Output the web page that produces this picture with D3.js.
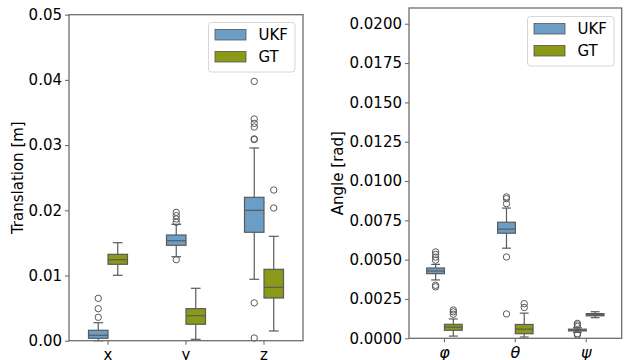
<!doctype html>
<html>
<head>
<meta charset="utf-8">
<script src="https://cdnjs.cloudflare.com/ajax/libs/d3/7.8.5/d3.min.js"></script>
<style>
    body { margin: 0; background: #fff; }
    svg text { font-family: 'DejaVu Sans', sans-serif; fill: #000; }
</style>
</head>
<body>
<div id="chart"></div>
<script>
// data: box stats as [whiskerLow, q1, median, q3, whiskerHigh]
const hues = ['UKF', 'GT'];
const transCats = ['x', 'y', 'z'];
const transUKF = [
    [0.00000, 0.00037, 0.00083, 0.00160, 0.00276],
    [0.01288, 0.01463, 0.01534, 0.01621, 0.01785],
    [0.00942, 0.01663, 0.02000, 0.02199, 0.02956]
];
const transUKFOut = [
    [0.00359, 0.00491, 0.00650],
    [0.01242, 0.01817, 0.01867, 0.01918, 0.01969],
    [0.00041, 0.00580, 0.03085, 0.03095, 0.03277, 0.03333, 0.03400, 0.03977]
];
const transGT = [
    [0.01003, 0.01172, 0.01242, 0.01325, 0.01503],
    [0.00021, 0.00252, 0.00383, 0.00491, 0.00804],
    [0.00149, 0.00655, 0.00819, 0.01095, 0.01601]
];
const transGTOut = [
    [],
    [],
    [0.02035, 0.02311]
];
const transTicks = [0, 0.01, 0.02, 0.03, 0.04, 0.05];

const angleCats = ['φ', 'θ', 'ψ'];
const angleUKF = [
    [0.00371, 0.00411, 0.00428, 0.00447, 0.00470],
    [0.00573, 0.00668, 0.00694, 0.00738, 0.00828],
    [0.00038, 0.00047, 0.00052, 0.00058, 0.00067]
];
const angleUKFOut = [
    [0.00327, 0.00337, 0.00497, 0.00516, 0.00533, 0.00549],
    [0.00155, 0.00517, 0.00856, 0.00888, 0.00899],
    [0.00021, 0.00029, 0.00075, 0.00085, 0.00095]
];
const angleGT = [
    [0.00014, 0.00051, 0.00071, 0.00089, 0.00123],
    [0.00008, 0.00029, 0.00058, 0.00088, 0.00160],
    [0.00131, 0.00143, 0.00150, 0.00157, 0.00169]
];
const angleGTOut = [
    [0.00153, 0.00168, 0.00180],
    [0.00196, 0.00220],
    []
];
const angleTicks = [0, 0.0025, 0.005, 0.0075, 0.01, 0.0125, 0.015, 0.0175, 0.02];

const colors = { UKF: '#6b9ec6', GT: '#8a9a18' };
const lineColor = '#5a5a5a';
const spineColor = '#6e6e6e';

const svg = d3.select('#chart').append('svg')
    .attr('width', 627)
    .attr('height', 360);

function drawPanel(p) {
    const g = svg.append('g');
    const xScale = d3.scaleBand().domain(p.cats).range([p.left, p.right]);
    const hueScale = d3.scaleBand().domain(hues)
        .range([xScale.bandwidth() * 0.25, xScale.bandwidth() * 0.75]);
    const yScale = d3.scaleLinear().domain(p.domain).range([p.bottom, p.top]);
    const bw = hueScale.bandwidth();

    // y axis
    const yAxis = g.append('g')
        .attr('transform', `translate(${p.left},0)`)
        .call(d3.axisLeft(yScale).tickValues(p.ticks).tickFormat(d3.format(p.fmt)).tickSize(4).tickPadding(3));
    yAxis.select('.domain').remove();
    yAxis.selectAll('.tick line').attr('stroke', spineColor).attr('stroke-width', 1.1);
    yAxis.selectAll('.tick text').style('font-size', '15px').style('font-family', 'DejaVu Sans');

    // x axis
    const xAxis = g.append('g')
        .attr('transform', `translate(0,${p.bottom})`)
        .call(d3.axisBottom(xScale).tickSize(4).tickPadding(p.catPad));
    xAxis.select('.domain').remove();
    xAxis.selectAll('.tick line').attr('stroke', spineColor).attr('stroke-width', 1.1);
    xAxis.selectAll('.tick text')
        .style('font-size', p.catSize)
        .style('font-family', 'DejaVu Sans')
        .style('font-style', p.catItalic ? 'italic' : 'normal');

    // boxes
    const series = [
        { hue: 'UKF', stats: p.ukf, out: p.ukfOut },
        { hue: 'GT', stats: p.gt, out: p.gtOut }
    ];
    series.forEach(s => {
        p.cats.forEach((c, i) => {
            const st = s.stats[i];
            const x0 = xScale(c) + hueScale(s.hue);
            const xc = x0 + bw / 2;
            const bg = g.append('g');
            bg.append('line')
                .attr('x1', xc).attr('x2', xc)
                .attr('y1', yScale(st[0])).attr('y2', yScale(st[1]))
                .attr('stroke', lineColor).attr('stroke-width', 1.2);
            bg.append('line')
                .attr('x1', xc).attr('x2', xc)
                .attr('y1', yScale(st[3])).attr('y2', yScale(st[4]))
                .attr('stroke', lineColor).attr('stroke-width', 1.2);
            [st[0], st[4]].forEach(v => {
                bg.append('line')
                    .attr('x1', xc - bw / 4).attr('x2', xc + bw / 4)
                    .attr('y1', yScale(v)).attr('y2', yScale(v))
                    .attr('stroke', lineColor).attr('stroke-width', 1.2);
            });
            bg.append('rect')
                .attr('x', x0).attr('width', bw)
                .attr('y', yScale(st[3]))
                .attr('height', Math.max(yScale(st[1]) - yScale(st[3]), 0.5))
                .attr('fill', colors[s.hue])
                .attr('stroke', lineColor).attr('stroke-width', 1.2);
            bg.append('line')
                .attr('x1', x0).attr('x2', x0 + bw)
                .attr('y1', yScale(st[2])).attr('y2', yScale(st[2]))
                .attr('stroke', lineColor).attr('stroke-width', 1.2);
            bg.selectAll('circle')
                .data(s.out[i])
                .enter().append('circle')
                .attr('cx', xc)
                .attr('cy', d => yScale(d))
                .attr('r', 3.2)
                .attr('fill', 'none')
                .attr('stroke', lineColor)
                .attr('stroke-width', 1);
        });
    });

    // spines
    g.append('rect')
        .attr('x', p.left).attr('y', p.top)
        .attr('width', p.right - p.left).attr('height', p.bottom - p.top)
        .attr('fill', 'none')
        .attr('stroke', spineColor).attr('stroke-width', 1.3);

    // y label
    g.append('text')
        .attr('transform', `translate(${p.labelX},${(p.top + p.bottom) / 2}) rotate(-90)`)
        .attr('text-anchor', 'middle')
        .attr('dy', '0.35em')
        .style('font-size', '15px')
        .text(p.label);

    // legend
    const lg = g.append('g').attr('transform', `translate(${p.legX},${p.legY})`);
    lg.append('rect')
        .attr('width', 86.5).attr('height', 49.5)
        .attr('rx', 3)
        .attr('fill', '#fff').attr('fill-opacity', 0.8)
        .attr('stroke', '#d6d6d6').attr('stroke-width', 1);
    hues.forEach((h, i) => {
        lg.append('rect')
            .attr('x', 6.5).attr('y', 7 + i * 22)
            .attr('width', 31).attr('height', 10.5)
            .attr('fill', colors[h])
            .attr('stroke', '#555').attr('stroke-width', 0.8);
        lg.append('text')
            .attr('x', 50).attr('y', 12.5 + i * 22)
            .attr('dy', '0.36em')
            .style('font-size', '15px')
            .text(h);
    });
}

drawPanel({
    cats: transCats, ukf: transUKF, gt: transGT, ukfOut: transUKFOut, gtOut: transGTOut,
    ticks: transTicks, fmt: '.2f', domain: [0, 0.05],
    left: 69, right: 303, top: 14.7, bottom: 340.7,
    label: 'Translation [m]', labelX: 18,
    catSize: '15px', catItalic: false, catPad: 5,
    legX: 208.5, legY: 22.5
});

drawPanel({
    cats: angleCats, ukf: angleUKF, gt: angleGT, ukfOut: angleUKFOut, gtOut: angleGTOut,
    ticks: angleTicks, fmt: '.4f', domain: [0, 0.021],
    left: 409, right: 621.7, top: 8, bottom: 338.3,
    label: 'Angle [rad]', labelX: 338,
    catSize: '16px', catItalic: true, catPad: 4,
    legX: 527.5, legY: 16.5
});
</script>
</body>
</html>
